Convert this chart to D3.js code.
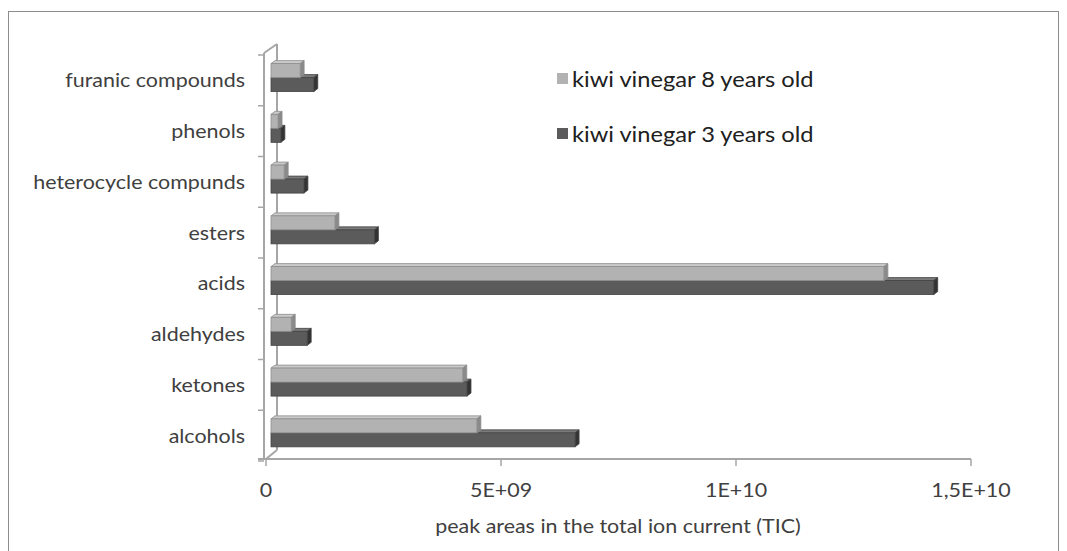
<!DOCTYPE html>
<html><head><meta charset="utf-8">
<script src="https://cdn.jsdelivr.net/npm/d3@7"></script>
<style>body{margin:0;background:#fff}svg{display:block}</style>
</head><body>
<script>
const categories = ["alcohols","ketones","aldehydes","acids","esters","heterocycle compunds","phenols","furanic compounds"];
const seriesNames = ["kiwi vinegar 8 years old","kiwi vinegar 3 years old"];
const old8 = [4.38e9, 4.08e9, 0.43e9, 13.04e9, 1.36e9, 0.28e9, 0.15e9, 0.62e9];
const old3 = [6.47e9, 4.17e9, 0.77e9, 14.1e9, 2.2e9, 0.70e9, 0.21e9, 0.91e9];
const xTicks = [0, 5e9, 1e10, 1.5e10];
const xTickLabels = ["0","5E+09","1E+10","1,5E+10"];
const axisTitle = "peak areas in the total ion current (TIC)";

const W = 1067, H = 551;
const svg = d3.select("body").append("svg").attr("width", W).attr("height", H);
const font = "Lato, 'Open Sans', sans-serif";
const SX = 1.1;

svg.append("rect").attr("x",8.5).attr("y",11.5).attr("width",1050).attr("height",560)
  .attr("fill","#fff").attr("stroke","#8c8c8c").attr("stroke-width",1);

const x = d3.scaleLinear().domain([0,1.5e10]).range([266,971]);
const bx = v => x(v) + 5;   // bars sit slightly back in depth
const y = d3.scaleBand().domain(categories.slice().reverse()).range([53,459]);
const depth = {dx:12, dy:-9};
const axisCol = "#a6a6a6";

function label(parent, tx, ty, anchor, size, fill, str){
  return parent.append("text")
    .attr("transform",`translate(${tx},${ty}) scale(${SX},1)`)
    .attr("text-anchor",anchor).attr("font-family",font).attr("font-size",size)
    .attr("fill",fill).text(str);
}

// walls / axes
const g = svg.append("g");
g.append("line").attr("x1",264).attr("y1",53).attr("x2",264).attr("y2",459).attr("stroke",axisCol).attr("stroke-width",2);
g.append("line").attr("x1",264+depth.dx+1).attr("y1",53+depth.dy).attr("x2",264+depth.dx+1).attr("y2",459+depth.dy).attr("stroke",axisCol).attr("stroke-width",2);
g.append("line").attr("x1",264).attr("y1",53).attr("x2",264+depth.dx+1).attr("y2",53+depth.dy).attr("stroke",axisCol).attr("stroke-width",2);
g.append("line").attr("x1",266).attr("y1",459).attr("x2",264+depth.dx+1).attr("y2",459+depth.dy).attr("stroke",axisCol).attr("stroke-width",2);
g.append("line").attr("x1",258).attr("y1",459).attr("x2",x(1.5e10)).attr("y2",459).attr("stroke",axisCol).attr("stroke-width",2);

// y ticks
const bounds = categories.map((c,i)=>y(c)).concat([459]);
g.selectAll(".yt").data(bounds).join("line")
  .attr("x1",258).attr("x2",264).attr("y1",d=>d+2).attr("y2",d=>d+2)
  .attr("stroke",axisCol).attr("stroke-width",1.5);
// x ticks
g.selectAll(".xt").data(xTicks).join("line")
  .attr("x1",d=>x(d)).attr("x2",d=>x(d)).attr("y1",459).attr("y2",466)
  .attr("stroke",axisCol).attr("stroke-width",1.5);
xTicks.forEach((d,i)=>label(g, x(d), 497, "middle", 19.5, "#404040", xTickLabels[i]));
label(svg, 618, 533, "middle", 19.5, "#404040", axisTitle);

// category labels
categories.forEach(c=>label(svg, 245, y(c)+y.bandwidth()/2+9, "end", 19.5, "#404040", c));

// 3D bars
const bh = 14, td = {dx:4, dy:-3};
const styles = [
  {front:"#b2b2b2", top:"#cacaca", side:"#8a8a8a", stroke:"#8e8e8e"},
  {front:"#5b5b5b", top:"#7a7a7a", side:"#333333", stroke:"#444444"}
];
function bar(x0,x1,yTop,st){
  const gg = svg.append("g");
  const pTop = [[x0,yTop],[x1,yTop],[x1+td.dx,yTop+td.dy],[x0+td.dx,yTop+td.dy]];
  const pSide = [[x1,yTop],[x1+td.dx,yTop+td.dy],[x1+td.dx,yTop+bh+td.dy],[x1,yTop+bh]];
  gg.append("polygon").attr("points",pTop.join(" ")).attr("fill",st.top).attr("stroke",st.stroke).attr("stroke-width",0.8);
  gg.append("polygon").attr("points",pSide.join(" ")).attr("fill",st.side).attr("stroke",st.stroke).attr("stroke-width",0.8);
  gg.append("rect").attr("x",x0).attr("y",yTop).attr("width",Math.max(0,x1-x0)).attr("height",bh)
    .attr("fill",st.front).attr("stroke",st.stroke).attr("stroke-width",0.8);
}
categories.forEach((c,i)=>{
  const y0 = y(c);
  bar(bx(0), bx(old3[i]), y0+24.6, styles[1]);
  bar(bx(0), bx(old8[i]), y0+10.6, styles[0]);
});

// legend
const leg = svg.append("g");
[[79,0],[134,1]].forEach(([cy,i])=>{
  leg.append("rect").attr("x",557).attr("y",cy-6).attr("width",11).attr("height",11).attr("fill",styles[i].front);
  label(leg, 572, cy+8, "start", 21.5, "#202020", seriesNames[i]);
});
</script>
</body></html>
